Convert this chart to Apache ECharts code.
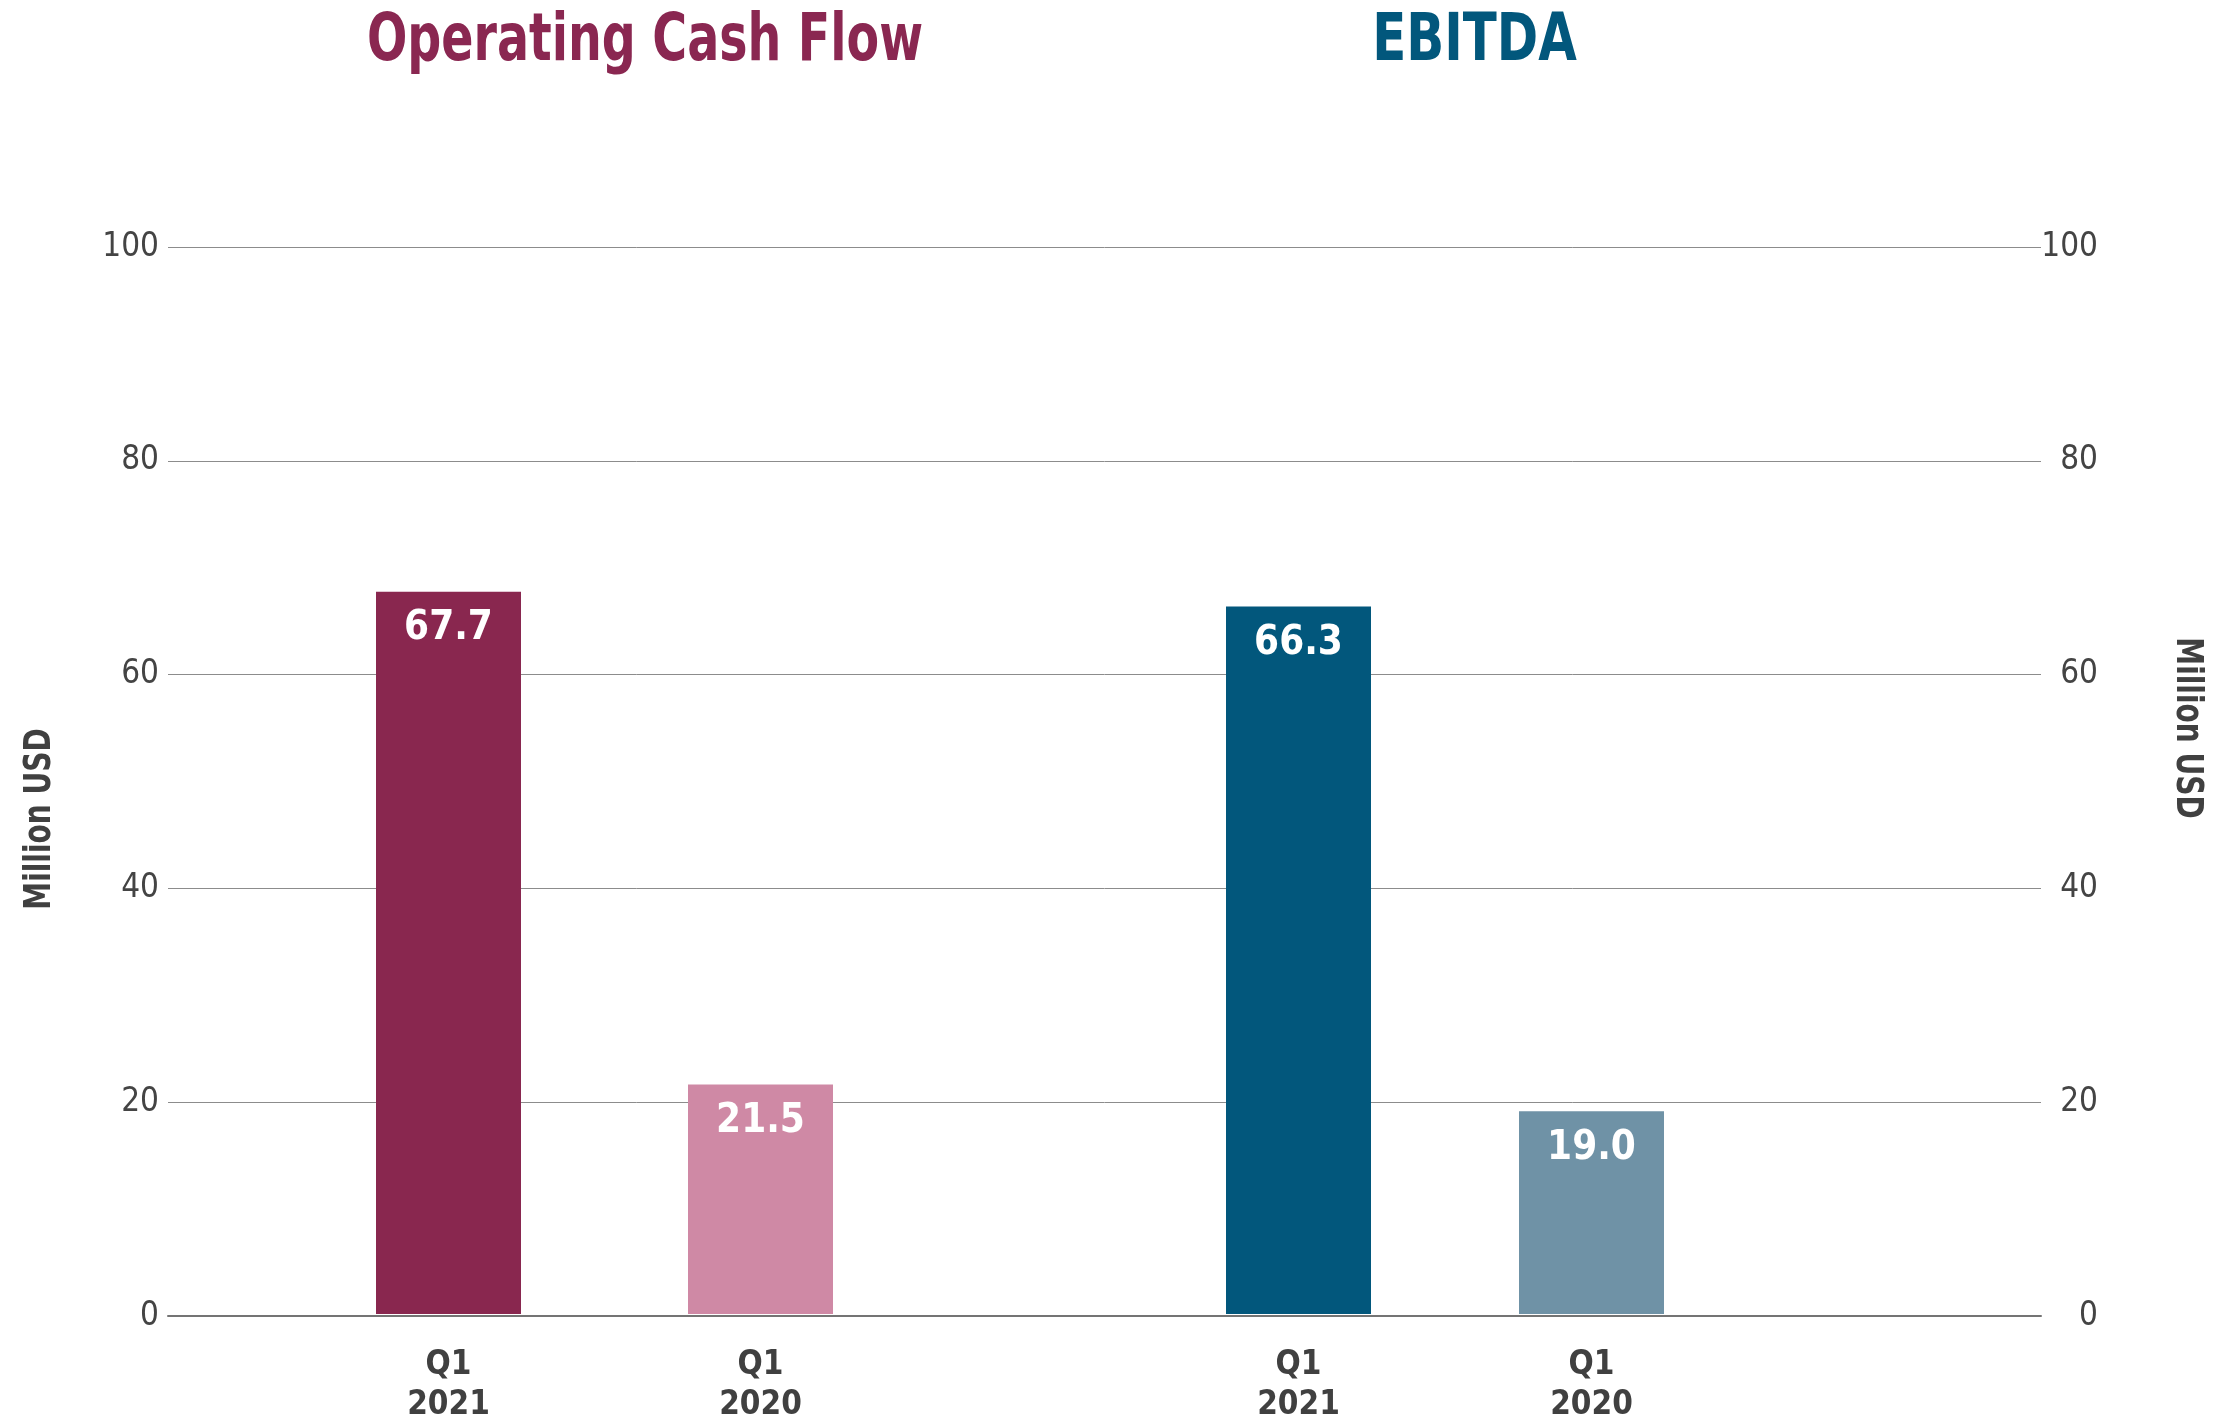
<!DOCTYPE html>
<html>
<head>
<meta charset="utf-8">
<title>Operating Cash Flow and EBITDA</title>
<script src="https://cdn.jsdelivr.net/npm/echarts@6/dist/echarts.min.js"></script>
<style>
  html, body { margin: 0; padding: 0; background: #ffffff; }
  #chart { width: 2217px; height: 1425px; }
</style>
</head>
<body>
<div id="chart"></div>
<script>
// Quarterly comparison, million USD
const categories = ['Q1\n2021', 'Q1\n2020'];
const ocfValues = [67.7, 21.5];
const ebitdaValues = [66.3, 19.0];
const ocfColors = ['#89274f', '#cf89a5'];
const ebitdaColors = ['#02577c', '#6f92a6'];
const yMin = 0, yMax = 100, yStep = 20;
const titles = ['Operating Cash Flow', 'EBITDA'];
const axisTitle = 'Million USD';

const FONT = "'Liberation Sans Narrow', 'DejaVu Sans Condensed', 'Roboto Condensed', sans-serif";
const TOP = 247, BOTTOM = 109;

const chart = echarts.init(document.getElementById('chart'), null, { renderer: 'canvas' });

function valueAxis(gridIndex, opts) {
  return Object.assign({
    type: 'value', gridIndex, min: yMin, max: yMax, interval: yStep,
    axisLine: { show: false }, axisTick: { show: false },
    axisLabel: { show: false }, splitLine: { show: false }
  }, opts || {});
}

function barSeries(idx, values, colors) {
  return {
    type: 'bar', xAxisIndex: idx, yAxisIndex: idx,
    barWidth: 145,
    data: values.map((v, i) => ({ value: v, itemStyle: { color: colors[i] } })),
    label: {
      show: true, position: 'insideTop', distance: 17,
      formatter: p => p.value.toFixed(1),
      color: '#ffffff', fontFamily: FONT, fontWeight: 'bold', fontSize: 40
    }
  };
}

const catLabel = {
  margin: 31, color: '#404040', fontFamily: FONT, fontWeight: 'bold',
  fontSize: 33, lineHeight: 40
};

const tickLabel = { color: '#444444', fontFamily: FONT, fontSize: 33 };

chart.setOption({
  animation: false,
  grid: [
    { left: 168, right: 176, top: TOP, bottom: BOTTOM },
    { left: 292.5, width: 624, top: TOP, bottom: BOTTOM },
    { left: 1152, width: 586, top: TOP, bottom: BOTTOM }
  ],
  xAxis: [
    {
      type: 'category', gridIndex: 0, data: [''],
      axisLine: { show: true, lineStyle: { color: '#747474', width: 2 } },
      axisTick: { show: false }, axisLabel: { show: false }
    },
    {
      type: 'category', gridIndex: 1, data: categories,
      axisLine: { show: false }, axisTick: { show: false }, axisLabel: catLabel
    },
    {
      type: 'category', gridIndex: 2, data: categories,
      axisLine: { show: false }, axisTick: { show: false }, axisLabel: catLabel
    }
  ],
  yAxis: [
    valueAxis(0, {
      position: 'left',
      axisLabel: Object.assign({ show: true, margin: 9 }, tickLabel),
      splitLine: { show: true, lineStyle: { color: '#8c8c8c', width: 1 } }
    }),
    valueAxis(1),
    valueAxis(2),
    valueAxis(0, {
      position: 'right',
      axisLabel: Object.assign({ show: true, margin: 57, align: 'right' }, tickLabel)
    })
  ],
  series: [
    barSeries(1, ocfValues, ocfColors),
    barSeries(2, ebitdaValues, ebitdaColors),
    { type: 'bar', xAxisIndex: 0, yAxisIndex: 3, data: [] }
  ],
  graphic: [
    {
      type: 'text', x: 645, y: 43, scaleX: 0.8,
      style: {
        text: titles[0], align: 'center', verticalAlign: 'middle',
        fill: '#8a2751', fontFamily: FONT, fontWeight: 'bold', fontSize: 66
      }
    },
    {
      type: 'text', x: 1474.5, y: 43, scaleX: 0.84,
      style: {
        text: titles[1], align: 'center', verticalAlign: 'middle',
        fill: '#02577c', fontFamily: FONT, fontWeight: 'bold', fontSize: 66
      }
    },
    {
      type: 'text', x: 40, y: 819, rotation: Math.PI / 2, scaleX: 0.82,
      style: {
        text: axisTitle, align: 'center', verticalAlign: 'middle',
        fill: '#404040', fontFamily: FONT, fontWeight: 'bold', fontSize: 38
      }
    },
    {
      type: 'text', x: 2187, y: 728, rotation: -Math.PI / 2, scaleX: 0.82,
      style: {
        text: axisTitle, align: 'center', verticalAlign: 'middle',
        fill: '#404040', fontFamily: FONT, fontWeight: 'bold', fontSize: 38
      }
    }
  ]
});
</script>
</body>
</html>
